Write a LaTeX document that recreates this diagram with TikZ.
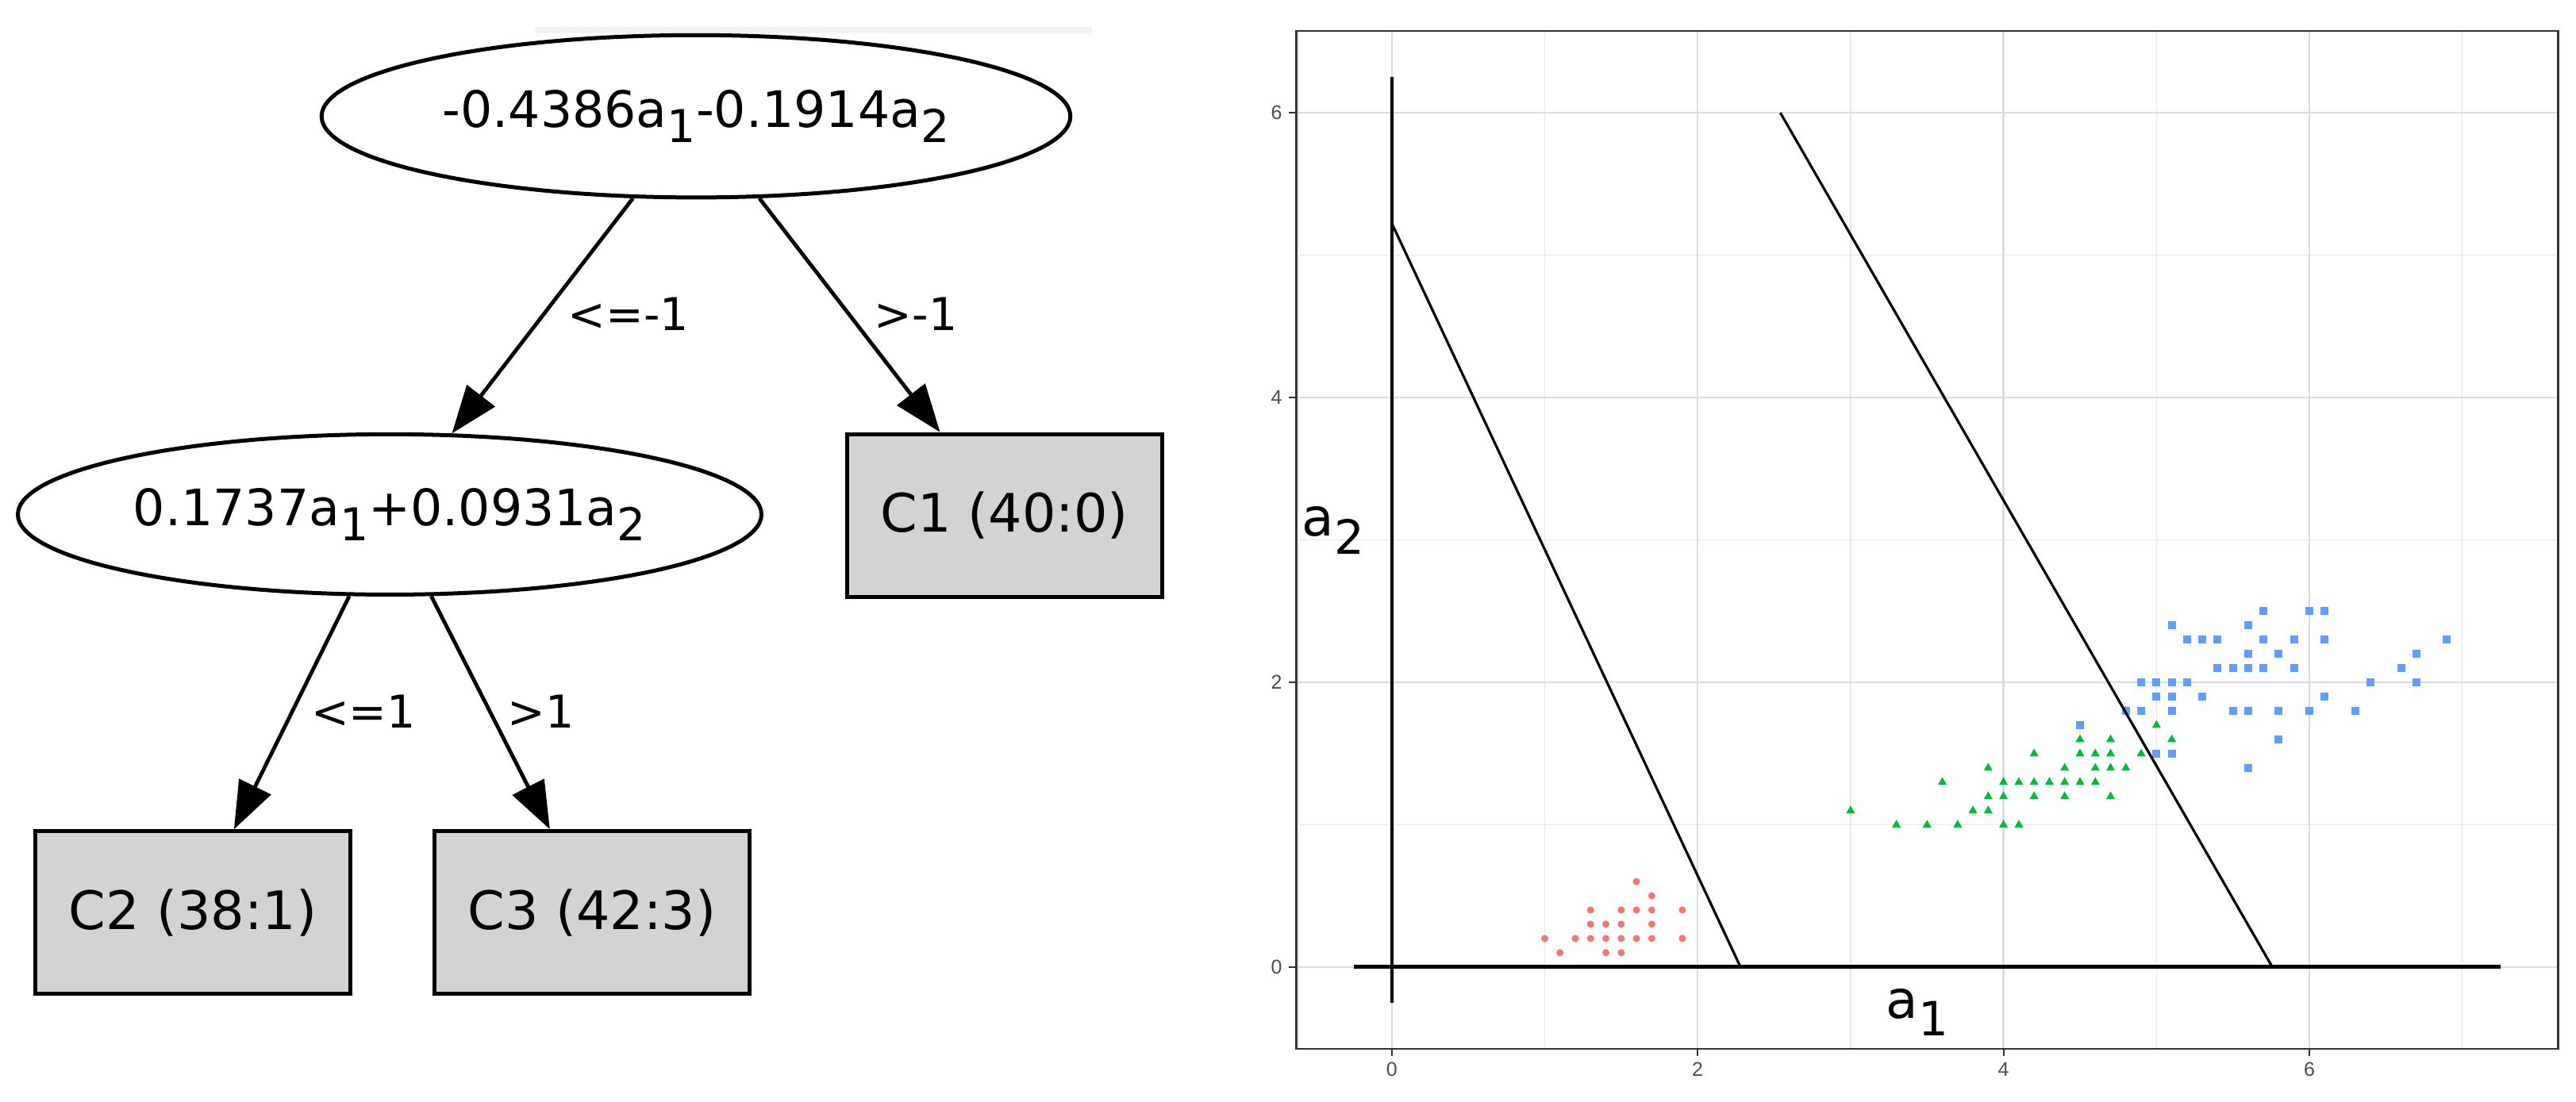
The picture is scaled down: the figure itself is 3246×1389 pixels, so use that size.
\documentclass[tikz,border=0pt]{standalone}
\usepackage{fontspec}
\usepackage{graphicx}
\usetikzlibrary{shapes.geometric,arrows.meta}
\newfontfamily\dv{DejaVu Sans}
\newfontfamily\lib{Liberation Sans}
\definecolor{setosa}{HTML}{F8766D}
\definecolor{versi}{HTML}{00BA38}
\definecolor{virg}{HTML}{619CFF}
\definecolor{gridmaj}{HTML}{DCDCDC}
\definecolor{gridmin}{HTML}{E8E8E8}
\definecolor{panelborder}{HTML}{333333}
\definecolor{ticktext}{HTML}{4D4D4D}
\definecolor{leaffill}{HTML}{D3D3D3}
\definecolor{artifact}{HTML}{F3F3F3}
\newcommand\lsub[1]{\raisebox{-0.3em}{\scalebox{0.9}{#1}}}
\newcommand\asub[1]{\raisebox{-0.22cm}{\scalebox{0.9}{#1}}}
\begin{document}
\begin{tikzpicture}[x=0.01cm,y=-0.01cm,
  nodetext/.style={font=\dv\fontsize{19pt}{23pt}\selectfont},
  splittext/.style={font=\dv\fontsize{18pt}{22pt}\selectfont},
  splitnode/.style={ellipse,draw=black,line width=0.05cm,fill=white,inner sep=0pt,splittext},
  leafnode/.style={rectangle,draw=black,line width=0.05cm,fill=leaffill,minimum width=3.97cm,minimum height=2.05cm,inner sep=0pt,nodetext},
  edge/.style={line width=0.048cm,-{Triangle[length=0.6cm,width=0.44cm]}},
  edgelabel/.style={font=\dv\fontsize{16.2pt}{19pt}\selectfont,inner sep=0pt},
  gridmajor/.style={draw=gridmaj,line width=0.024cm},
  gridminor/.style={draw=gridmin,line width=0.014cm},
  ticklabel/.style={font=\lib\fontsize{7.1pt}{8.5pt}\selectfont,text=ticktext,inner sep=0pt},
  axislabel/.style={font=\dv\fontsize{18.8pt}{22pt}\selectfont,inner sep=0pt},
  setpt/.style={fill=setosa},
  verpt/.style={fill=versi},
  virpt/.style={fill=virg}
]
\useasboundingbox (0,0) rectangle (3246,1389);
\fill[white] (0,0) rectangle (3246,1389);
\fill[artifact] (674,34) rectangle (1376,42);

% ---------------- tree ----------------
\node[splitnode,minimum width=9.43cm,minimum height=2.045cm] (root) at (877,146.6)
  {-0.4386a\lsub{1}-0.1914a\lsub{2}};
\node[splitnode,minimum width=9.365cm,minimum height=2.02cm] (mid) at (491,648.4)
  {0.1737a\lsub{1}+0.0931a\lsub{2}};
\node[leafnode] (c1) at (1265.7,649.7) {C1 (40:0)};
\node[leafnode] (c2) at (243,1150.3) {C2 (38:1)};
\node[leafnode] (c3) at (746.2,1150.3) {C3 (42:3)};

\draw[edge] (root) -- (mid);
\draw[edge] (root) -- (c1);
\draw[edge] (mid) -- (c2);
\draw[edge] (mid) -- (c3);

\node[edgelabel] (lab1) at (792,396) {<=-1};
\node[edgelabel] (lab2) at (1154,396) {>-1};
\node[edgelabel] (lab3) at (458,897) {<=1};
\node[edgelabel] (lab4) at (681.5,897) {>1};

% ---------------- plot ----------------
\begin{scope}[shift={(17.527cm,-12.18cm)},x=1.926cm,y=1.793cm]
  \fill[white] (-0.625,-0.575) rectangle (7.625,6.575);
  \foreach \gx in {1,3,5,7} \draw[gridminor] (\gx,-0.575) -- (\gx,6.575);
  \foreach \gy in {1,3,5} \draw[gridminor] (-0.625,\gy) -- (7.625,\gy);
  \foreach \gx in {0,2,4,6} \draw[gridmajor] (\gx,-0.575) -- (\gx,6.575);
  \foreach \gy in {0,2,4,6} \draw[gridmajor] (-0.625,\gy) -- (7.625,\gy);

  % setosa
  \foreach \a/\b in {1.0/0.2,1.1/0.1,1.2/0.2,1.3/0.2,1.3/0.3,1.3/0.4,1.4/0.1,1.4/0.2,1.4/0.3,
    1.5/0.1,1.5/0.2,1.5/0.3,1.5/0.4,1.6/0.2,1.6/0.4,1.6/0.6,1.7/0.2,1.7/0.3,1.7/0.4,1.7/0.5,
    1.9/0.2,1.9/0.4}
    \fill[setpt] (\a,\b) circle[radius=0.045cm];
  % versicolor
  \foreach \a/\b in {3.0/1.1,3.3/1.0,3.5/1.0,3.6/1.3,3.7/1.0,3.8/1.1,3.9/1.1,3.9/1.2,3.9/1.4,
    4.0/1.0,4.0/1.2,4.0/1.3,4.1/1.0,4.1/1.3,4.2/1.2,4.2/1.3,4.2/1.5,4.3/1.3,4.4/1.2,4.4/1.3,
    4.4/1.4,4.5/1.3,4.5/1.5,4.5/1.6,4.6/1.3,4.6/1.4,4.6/1.5,4.7/1.2,4.7/1.4,4.7/1.5,4.7/1.6,
    4.8/1.4,4.8/1.8,4.9/1.5,5.0/1.7,5.1/1.6}
    \fill[verpt] (\a,\b) ++(0cm,0.06cm) -- ++(-0.055cm,-0.097cm) -- ++(0.11cm,0cm) -- cycle;
  % virginica
  \foreach \a/\b in {6.0/2.5,5.1/1.9,5.9/2.1,5.6/1.8,5.8/2.2,6.6/2.1,4.5/1.7,6.3/1.8,5.8/1.8,
    6.1/2.5,5.1/2.0,5.3/1.9,5.5/2.1,5.0/2.0,5.1/2.4,5.3/2.3,5.5/1.8,6.7/2.2,6.9/2.3,5.0/1.5,
    5.7/2.3,4.9/2.0,6.7/2.0,4.9/1.8,5.7/2.1,6.0/1.8,4.8/1.8,5.6/2.1,5.8/1.6,6.1/1.9,6.4/2.0,
    5.6/2.2,5.1/1.5,5.6/1.4,6.1/2.3,5.6/2.4,5.4/2.1,5.9/2.3,5.7/2.5,5.2/2.3,5.2/2.0,5.4/2.3,
    5.0/1.9,5.1/1.8}
    \fill[virpt] (\a,\b) ++(-0.05cm,-0.05cm) rectangle ++(0.1cm,0.1cm);

  % axes and separating lines
  \draw[line width=0.045cm] (-0.25,0) -- (7.25,0);
  \draw[line width=0.042cm] (0,-0.25) -- (0,6.25);
  \draw[line width=0.032cm] (0,5.2247) -- (2.2800,0);
  \draw[line width=0.032cm] (2.5412,6) -- (5.7571,0);

  % panel border, ticks, tick labels
  \draw[panelborder,line width=0.027cm] (-0.625,-0.575) rectangle (7.625,6.575);
  \foreach \tx in {0,2,4,6} {
    \draw[panelborder,line width=0.02cm] (\tx,-0.575) -- ++(0cm,-0.09cm);
    \node[ticklabel] (xt\tx) at (\tx,-0.575) [yshift=-0.26cm] {\tx};
  }
  \foreach \ty in {0,2,4,6} {
    \draw[panelborder,line width=0.02cm] (-0.625,\ty) -- ++(-0.09cm,0cm);
    \node[ticklabel,anchor=east] (yt\ty) at (-0.625,\ty) [xshift=-0.17cm] {\ty};
  }
\end{scope}

\node[axislabel,anchor=base west] (labA1) at (2376,1283) {a\asub{1}};
\node[axislabel,anchor=base west] (labA2) at (1640,676) {a\asub{2}};
\end{tikzpicture}
\end{document}
